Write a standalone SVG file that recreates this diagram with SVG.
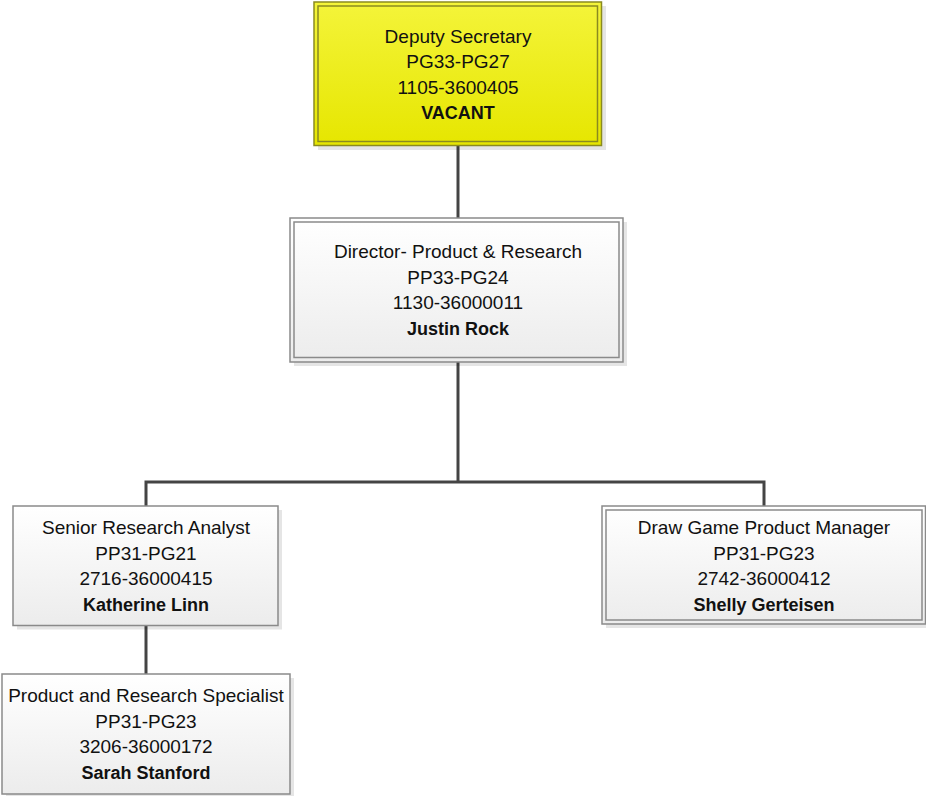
<svg xmlns="http://www.w3.org/2000/svg" width="926" height="796" viewBox="0 0 926 796">
<defs>
<linearGradient id="gy" x1="0" y1="0" x2="0" y2="1">
<stop offset="0" stop-color="#f4f43a"/>
<stop offset="1" stop-color="#e6e600"/>
</linearGradient>
<linearGradient id="gg" x1="0" y1="0" x2="0" y2="1">
<stop offset="0" stop-color="#ffffff"/>
<stop offset="1" stop-color="#ececec"/>
</linearGradient>
</defs>
<style>
.sh{fill:#000;fill-opacity:0.1}
.ob{stroke:#8a8a8a;stroke-width:1.5}
.ib{fill:none;stroke:#8a8a8a;stroke-width:1.5}
.y .ob,.y .ib{stroke:#8a8a20}
text{font-family:"Liberation Sans",Arial,sans-serif;font-size:19px;fill:#111;text-anchor:middle}
.b{font-weight:bold;font-size:18px}
.c{fill:none;stroke:#444;stroke-width:3}
</style>
<g id="connectors">
<path class="c" d="M458 146V218"/>
<path class="c" d="M458 362V482"/>
<path class="c" d="M146 506V482H764V506"/>
<path class="c" d="M146 625V674"/>
</g>
<g id="deputy" class="y">
<rect class="sh" x="318" y="6" width="288" height="144"/>
<rect class="ob" x="314" y="2" width="287.5" height="143.5" fill="url(#gy)"/>
<rect class="ib" x="318" y="6" width="279.5" height="135.5"/>
<text x="458" y="42.5">Deputy Secretary</text>
<text x="458" y="68">PG33-PG27</text>
<text x="458" y="93.5">1105-3600405</text>
<text class="b" x="458" y="119">VACANT</text>
</g>
<g id="director">
<rect class="sh" x="294" y="222" width="333" height="144"/>
<rect class="ob" x="290" y="218" width="333" height="144" fill="url(#gg)"/>
<rect class="ib" x="294" y="222" width="325" height="135.5"/>
<text x="458" y="257.5">Director- Product &amp; Research</text>
<text x="458" y="283.5">PP33-PG24</text>
<text x="458" y="308.5">1130-36000011</text>
<text class="b" x="458" y="334.5">Justin Rock</text>
</g>
<g id="senior">
<rect class="sh" x="17" y="510" width="265" height="119.5"/>
<rect class="ob" x="13" y="506" width="265" height="119.5" fill="url(#gg)"/>
<text x="146" y="533.5">Senior Research Analyst</text>
<text x="146" y="559.5">PP31-PG21</text>
<text x="146" y="584.5">2716-36000415</text>
<text class="b" x="146" y="610.5">Katherine Linn</text>
</g>
<g id="drawgame">
<rect class="sh" x="606" y="510" width="320" height="118"/>
<rect class="ob" x="602" y="506" width="323.5" height="118" fill="url(#gg)"/>
<rect class="ib" x="606" y="510" width="316" height="110"/>
<text x="764" y="533.5">Draw Game Product Manager</text>
<text x="764" y="559.5">PP31-PG23</text>
<text x="764" y="584.5">2742-36000412</text>
<text class="b" x="764" y="610.5">Shelly Gerteisen</text>
</g>
<g id="specialist">
<rect class="sh" x="6" y="678" width="288" height="120"/>
<rect class="ob" x="2" y="674" width="288" height="120" fill="url(#gg)"/>
<text x="146" y="701.5">Product and Research Specialist</text>
<text x="146" y="727.5">PP31-PG23</text>
<text x="146" y="752.5">3206-36000172</text>
<text class="b" x="146" y="778.5">Sarah Stanford</text>
</g>
</svg>
